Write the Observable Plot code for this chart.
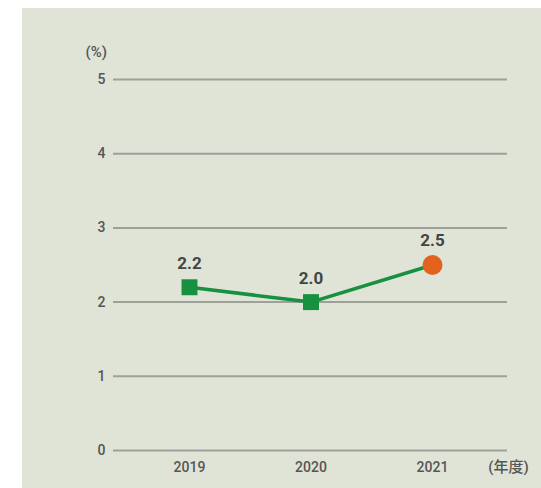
<!DOCTYPE html>
<html><head><meta charset="utf-8">
<script src="https://cdn.jsdelivr.net/npm/d3@7"></script>
<script src="https://cdn.jsdelivr.net/npm/@observablehq/plot@0.6"></script>
<style>
html,body{margin:0;padding:0;background:#fff;}
#chart{position:absolute;left:22px;top:8px;width:519px;height:480px;background:#dfe4d7;}
svg{background:transparent!important;}
</style></head>
<body><div id="chart"></div>
<script>
const years = [2019, 2020, 2021];
const values = [2.2, 2.0, 2.5];
const yTicks = [0, 1, 2, 3, 4, 5];
const yUnit = "(%)";
const xUnit = "(年度)";

const data = years.map((y, i) => ({year: y, value: values[i]}));
const past = data.slice(0, 2);
const latest = data.slice(2);

const chart = Plot.plot({
  width: 519, height: 480,
  marginLeft: 91, marginRight: 34, marginTop: 71, marginBottom: 38,
  style: {fontFamily: "Roboto, 'Noto Sans CJK JP', sans-serif", background: "transparent"},
  x: {domain: [2019, 2021], range: [167, 410], axis: null},
  y: {domain: [0, 5], axis: null},
  marks: [
    Plot.ruleY(yTicks, {stroke: "#9da19a", strokeWidth: 2}),
    Plot.text(yTicks, {y: d => d, text: d => String(d), frameAnchor: "left", dx: -8, textAnchor: "end", fontSize: 14, fontWeight: 500, fill: "#555"}),
    Plot.text(years, {x: d => d, y: () => 0, text: d => String(d), dy: 17, fontSize: 14, fontWeight: 500, fill: "#555"}),
    Plot.line(data, {x: "year", y: "value", stroke: "#17903f", strokeWidth: 3.5}),
    Plot.dot(past, {x: "year", y: "value", symbol: "square", r: 9, fill: "#17903f"}),
    Plot.dot(latest, {x: "year", y: "value", r: 10, fill: "#e2621e"}),
    Plot.text(data, {x: "year", y: "value", text: d => d.value.toFixed(1), dy: -24, fontSize: 17, fontWeight: "bold", fill: "#444"}),
    Plot.text([yUnit], {y: () => 5, text: d => d, frameAnchor: "left", dx: -28, dy: -27, fontSize: 15, fontWeight: 500, fill: "#555"}),
    Plot.text([xUnit], {x: () => 2021, y: () => 0, text: d => d, dx: 76, dy: 17, fontSize: 15, fontWeight: 500, fill: "#555"})
  ]
});
document.getElementById("chart").appendChild(chart);
</script></body></html>
